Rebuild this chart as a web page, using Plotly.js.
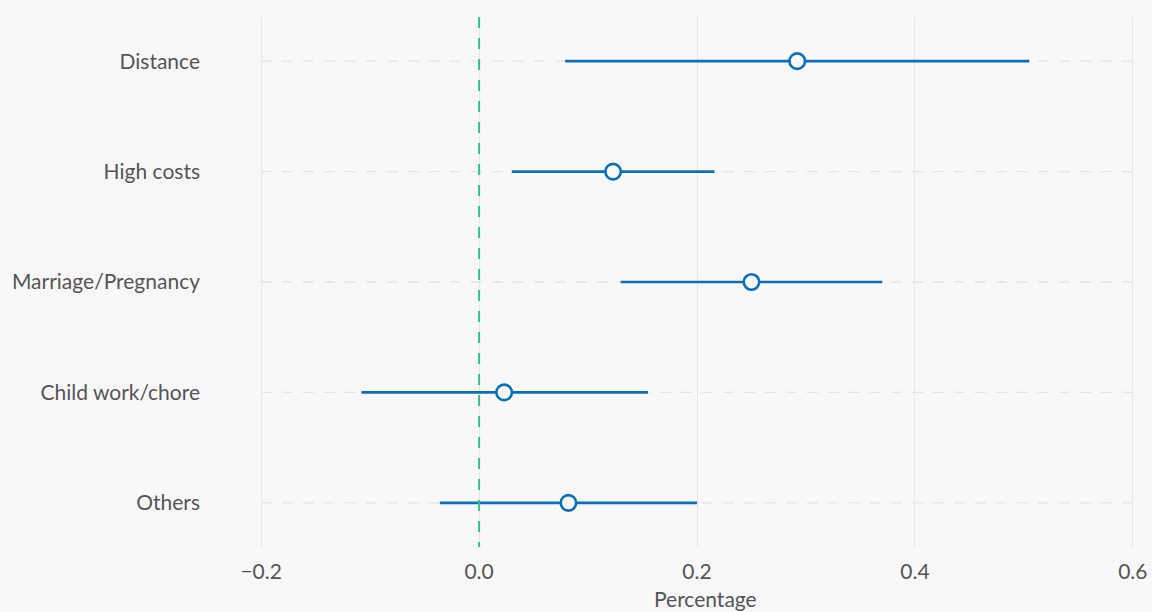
<!DOCTYPE html>
<html><head><meta charset="utf-8">
<script src="https://cdn.plot.ly/plotly-3.0.1.min.js"></script>
<style>html,body{margin:0;padding:0;background:#f8f8f8;}</style>
</head><body>
<div id="chart" style="width:1152px;height:612px;"></div>
<script>
const categories = ["Distance", "High costs", "Marriage/Pregnancy", "Child work/chore", "Others"];
const estimates = [0.292, 0.123, 0.250, 0.023, 0.082];
const lower = [0.079, 0.030, 0.130, -0.108, -0.036];
const upper = [0.505, 0.216, 0.370, 0.155, 0.200];
const xTicks = [-0.2, 0.0, 0.2, 0.4, 0.6];
const xTickLabels = ["−0.2", "0.0", "0.2", "0.4", "0.6"];
const xTitle = "Percentage";

const blue = "#0a70bd";
const trace = {
  type: "scatter", mode: "markers",
  x: estimates, y: categories,
  error_x: {type: "data", symmetric: false,
    array: upper.map((u, i) => u - estimates[i]),
    arrayminus: estimates.map((e, i) => e - lower[i]),
    color: blue, thickness: 2.6, width: 0},
  marker: {symbol: "circle", size: 15.5, color: "#f8f8f8", line: {color: blue, width: 2.6}},
  hoverinfo: "x+y", showlegend: false
};

const shapes = categories.map(c => ({
  type: "line", xref: "x", yref: "y", x0: xTicks[xTicks.length - 1], x1: xTicks[0], y0: c, y1: c,
  line: {color: "#e4e4e4", width: 1.3, dash: "11px,10px"}, layer: "below"
}));
shapes.push({type: "line", xref: "x", yref: "paper", x0: 0, x1: 0, y0: 1, y1: 0,
  line: {color: "#35c18b", width: 2, dash: "11px,10px"}, layer: "above"});

const layout = {
  width: 1152, height: 612,
  paper_bgcolor: "#f8f8f8", plot_bgcolor: "#f8f8f8",
  margin: {l: 259, r: 17, t: 17, b: 65},
  font: {family: "Lato, 'Open Sans', sans-serif", color: "#555555", size: 21},
  xaxis: {range: [-0.202, 0.602], tickvals: xTicks, ticktext: xTickLabels,
    showgrid: true, gridcolor: "#e6e6e6", gridwidth: 1.3, zeroline: false,
    showline: false, ticks: "", tickfont: {size: 21, color: "#555555"},
    ticklabelstandoff: 10},
  yaxis: {type: "category", categoryorder: "array", categoryarray: categories,
    range: [4.4, -0.4], showgrid: false, zeroline: false, showline: false, ticks: "",
    tickfont: {size: 21, color: "#555555"}, ticklabelstandoff: 58},
  shapes: shapes,
  annotations: [{text: xTitle, xref: "paper", yref: "paper", x: 0.51, y: -0.098,
    xanchor: "center", yanchor: "middle", showarrow: false,
    font: {size: 21, color: "#555555"}}]
};
Plotly.newPlot("chart", [trace], layout, {displayModeBar: false});
</script>
</body></html>
